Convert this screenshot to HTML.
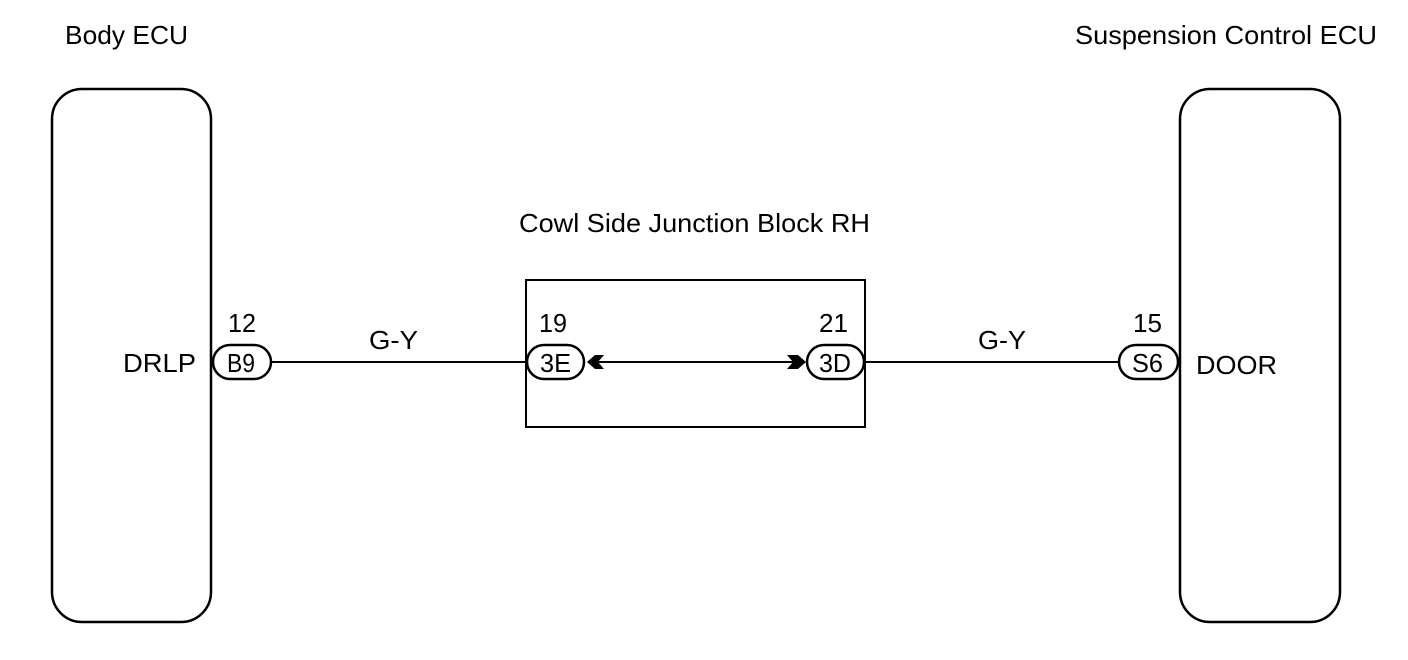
<!DOCTYPE html>
<html><head><style>
html,body{margin:0;padding:0;background:#fff;}
svg{display:block;}
text{font-family:"Liberation Sans",Arial,sans-serif;fill:#000;}
</style></head><body>
<svg width="1408" height="660" viewBox="0 0 1408 660" xmlns="http://www.w3.org/2000/svg">
<g fill="none" stroke="#000" stroke-width="2.5">
<rect x="52" y="89" width="159" height="533" rx="30"/>
<rect x="1180" y="89" width="160" height="533" rx="30"/>
<rect x="526" y="280" width="339" height="147" stroke-width="2"/>
<line x1="271" y1="362" x2="526" y2="362" stroke-width="2"/>
<line x1="590" y1="362" x2="800" y2="362" stroke-width="2"/>
<line x1="865" y1="362" x2="1118" y2="362" stroke-width="2"/>
<rect x="213" y="345" width="58" height="34" rx="17" fill="#fff"/>
<rect x="527" y="345" width="57" height="34" rx="17" fill="#fff"/>
<rect x="807" y="345" width="57" height="34" rx="17" fill="#fff"/>
<rect x="1119" y="345" width="59" height="34" rx="17" fill="#fff"/>
</g>
<polygon points="587,362 595,355 604,355 598,362 604,369 595,369" fill="#000"/>
<polygon points="806,362 798,355 787,355 793,362 787,369 798,369" fill="#000"/>
<g font-size="26">
<text x="65" y="44" textLength="123" lengthAdjust="spacingAndGlyphs">Body ECU</text>
<text x="1075" y="44" textLength="302" lengthAdjust="spacingAndGlyphs">Suspension Control ECU</text>
<text x="519" y="232" textLength="351" lengthAdjust="spacingAndGlyphs">Cowl Side Junction Block RH</text>
<text x="123" y="372" textLength="73" lengthAdjust="spacingAndGlyphs">DRLP</text>
<text x="1196" y="374" textLength="81" lengthAdjust="spacingAndGlyphs">DOOR</text>
<text x="228" y="332" textLength="28" lengthAdjust="spacingAndGlyphs">12</text>
<text x="539" y="332" textLength="28" lengthAdjust="spacingAndGlyphs">19</text>
<text x="819" y="332" textLength="29" lengthAdjust="spacingAndGlyphs">21</text>
<text x="1133" y="332" textLength="29" lengthAdjust="spacingAndGlyphs">15</text>
<text x="369" y="349" textLength="49" lengthAdjust="spacingAndGlyphs">G-Y</text>
<text x="978" y="349" textLength="48" lengthAdjust="spacingAndGlyphs">G-Y</text>
<text x="227" y="372" textLength="28" lengthAdjust="spacingAndGlyphs">B9</text>
<text x="540" y="372" textLength="31" lengthAdjust="spacingAndGlyphs">3E</text>
<text x="819" y="372" textLength="32" lengthAdjust="spacingAndGlyphs">3D</text>
<text x="1132" y="372" textLength="31" lengthAdjust="spacingAndGlyphs">S6</text>
</g>
</svg>
</body></html>
